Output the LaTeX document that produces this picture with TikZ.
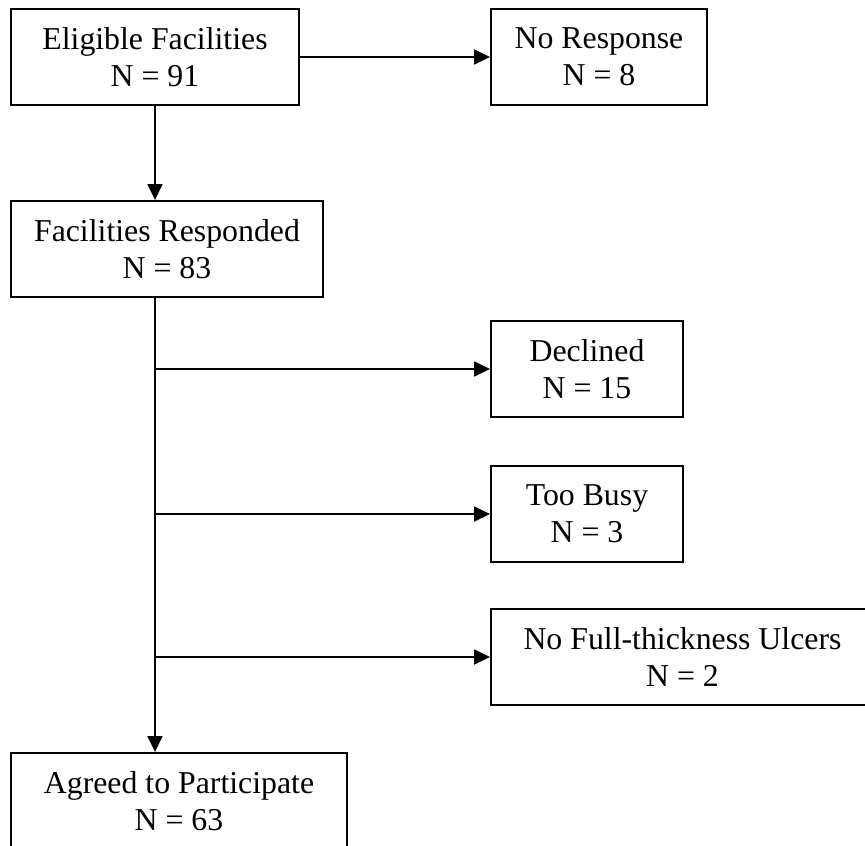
\documentclass[tikz,border=0pt]{standalone}
\usepackage{fontspec}
\setmainfont{Liberation Serif}
\usetikzlibrary{arrows.meta}
\begin{document}
\begin{tikzpicture}[x=1pt,y=-1pt,
  box/.style={draw=black, line width=2pt, fill=white, align=center, inner sep=0pt,
    minimum height=96pt, font=\fontsize{31.8}{37}\selectfont},
  arr/.style={line width=1.8pt, -{Triangle[length=16pt,width=15pt]}},
  ln/.style={line width=1.8pt}]
\clip (0,0) rectangle (865,846);
\fill[white] (0,0) rectangle (865,846);
\node[box, minimum width=288pt] (elig) at (155,57) {Eligible Facilities\\N = 91};
\node[box, minimum width=216pt] (nores) at (599,57) {No Response\\N = 8};
\node[box, minimum width=312pt] (resp) at (167,249) {Facilities Responded\\N = 83};
\node[box, minimum width=192pt] (decl) at (587,369) {Declined\\N = 15};
\node[box, minimum width=192pt] (busy) at (587,514) {Too Busy\\N = 3};
\node[box, minimum width=383pt] (nofull) at (682.5,657) {No Full-thickness Ulcers\\N = 2};
\node[box, minimum width=336pt] (agreed) at (179,801) {Agreed to Participate\\N = 63};
\draw[arr] (elig.east) -- (nores.west);
\draw[arr] (elig.south) -- (elig.south |- resp.north);
\draw[arr] (elig.south |- resp.south) -- (elig.south |- agreed.north);
\draw[arr] (elig.south |- decl.west) -- (decl.west);
\draw[arr] (elig.south |- busy.west) -- (busy.west);
\draw[arr] (elig.south |- nofull.west) -- (nofull.west);
\end{tikzpicture}
\end{document}
